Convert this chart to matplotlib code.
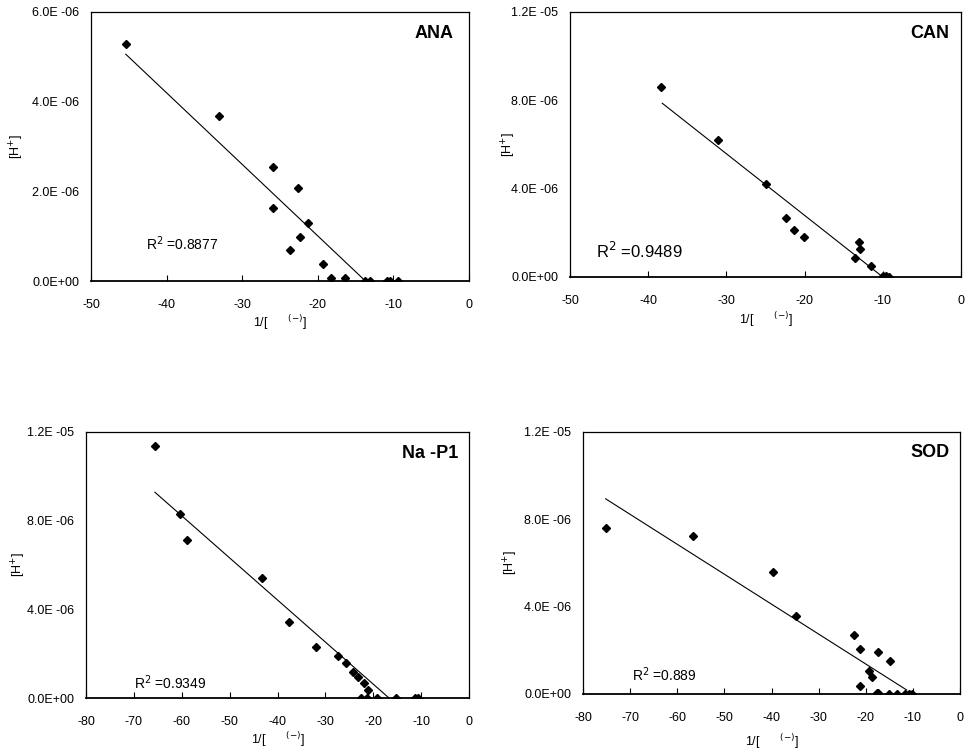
import matplotlib.pyplot as plt
import numpy as np

plt.rcParams['font.family'] = ['Liberation Sans', 'DejaVu Sans']

# data, y in units of 1e-6
ana_x = [-45.4, -33.1, -25.9, -22.6, -25.9, -21.3, -22.3, -23.7, -19.3, -18.3, -16.4, -13.8, -13.1, -10.8, -10.4, -9.4]
ana_y = [5.29, 3.69, 2.55, 2.07, 1.62, 1.29, 0.98, 0.69, 0.39, 0.06, 0.06, 0, 0, 0, 0, 0]

can_x = [-38.3, -31.1, -24.9, -22.4, -21.4, -20.1, -13.1, -12.9, -13.6, -11.5, -10.0, -9.6, -9.2]
can_y = [8.61, 6.22, 4.19, 2.68, 2.12, 1.80, 1.59, 1.27, 0.86, 0.48, 0.03, 0.03, 0.0]

nap_x = [-65.6, -60.3, -58.9, -43.2, -37.6, -32.0, -27.3, -25.6, -24.2, -23.2, -21.9, -21.2, -22.5, -21.4, -19.2, -15.3, -11.3, -10.6]
nap_y = [11.38, 8.29, 7.14, 5.40, 3.43, 2.29, 1.88, 1.56, 1.17, 0.95, 0.68, 0.35, 0, 0, 0, 0, 0, 0]

sod_x = [-75.2, -56.7, -39.7, -34.8, -22.4, -21.3, -17.5, -14.8, -19.4, -18.7, -21.2, -17.7, -17.4, -15.1, -13.4, -11.7, -10.9, -10.2]
sod_y = [7.60, 7.23, 5.58, 3.55, 2.71, 2.08, 1.94, 1.51, 1.04, 0.76, 0.35, 0.03, 0.03, 0, 0, 0, 0, 0]

# trend lines: slope, intercept (1e-6 units), x start, x end
ana_fit = [-0.1596, -2.187, -45.4, -13.7]
can_fit = [-0.279, -2.79, -38.2, -10.0]
nap_fit = [-0.1898, -3.17, -65.6, -16.7]
sod_fit = [-0.1371, -1.37, -75.2, -11.3]

names = ["ANA", "CAN", "Na -P1", "SOD"]
r2_text = ["0.8877", "0.9489", "0.9349", "0.889"]

ticks_6 = [0, 2, 4, 6]
labels_6 = ["0.0E+00", "2.0E -06", "4.0E -06", "6.0E -06"]
ticks_12 = [0, 4, 8, 12]
labels_12 = ["0.0E+00", "4.0E -06", "8.0E -06", "1.2E -05"]


fig = plt.figure(figsize=(9.72, 7.5), dpi=100)


def panel(rect, x, y, fit, name, r2, xmin, ymax, yt, ylab, r2_pos, r2_size, ylab_x, xlab_y, name_x):
    ax = fig.add_axes(rect)
    ax.plot(x, y, 'D', color='black', markersize=4.5, zorder=3)
    fx = np.array([fit[2], fit[3]])
    ax.plot(fx, fit[0] * fx + fit[1], color='black', linewidth=0.8)

    ax.set_xlim(xmin, 0)
    ax.set_ylim(0, ymax)
    xt = list(range(xmin, 1, 10))
    ax.set_xticks(xt)
    ax.set_xticklabels([str(v) for v in xt], fontsize=9)
    ax.set_yticks(yt)
    ax.set_yticklabels(ylab, fontsize=9)
    ax.tick_params(axis='x', direction='in', length=4, width=0.8, pad=13)
    ax.tick_params(axis='y', length=0, pad=8.5)
    for s in ax.spines.values():
        s.set_linewidth(0.9)
    ax.spines['bottom'].set_linewidth(1.3)

    ax.set_ylabel("[H$^{+}$]", fontsize=9)
    ax.yaxis.set_label_coords(ylab_x, 0.5)
    ax.set_xlabel("1/[      $^{(\\mathrm{-})}$]", fontsize=9)
    ax.xaxis.set_label_coords(0.5, xlab_y)

    ax.text(name_x, 0.92, name, transform=ax.transAxes, ha='right', va='center',
            fontsize=13, fontweight='bold')
    ax.text(r2_pos[0], r2_pos[1], "R$^{2}$ =" + r2, fontsize=r2_size, va='center')
    return ax


panel([0.0936, 0.6253, 0.389, 0.3587], ana_x, ana_y, ana_fit, names[0], r2_text[0],
      -50, 6, ticks_6, labels_6, (-42.7, 0.84), 10, -0.171, -0.12, 0.958)
panel([0.5864, 0.6307, 0.4023, 0.3533], can_x, can_y, can_fit, names[1], r2_text[1],
      -50, 12, ticks_12, labels_12, (-46.7, 1.17), 12, -0.132, -0.125, 0.969)
panel([0.0885, 0.0693, 0.394, 0.3547], nap_x, nap_y, nap_fit, names[2], r2_text[2],
      -80, 12, ticks_12, labels_12, (-69.9, 0.68), 10, -0.151, -0.12, 0.971)
panel([0.5998, 0.0747, 0.3879, 0.3493], sod_x, sod_y, sod_fit, names[3], r2_text[3],
      -80, 12, ticks_12, labels_12, (-69.5, 0.87), 10, -0.167, -0.145, 0.971)

plt.savefig("out.png", dpi=100)
